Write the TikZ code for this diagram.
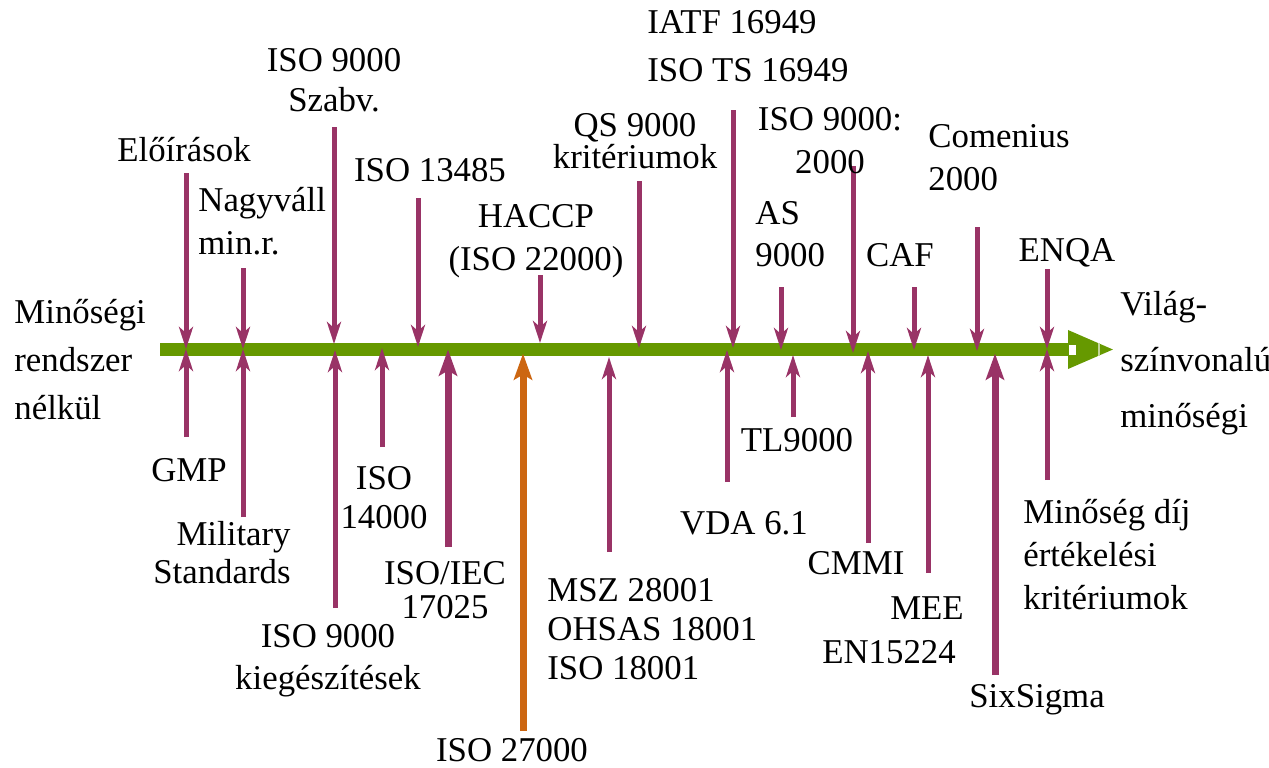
\documentclass[tikz,border=0pt]{standalone}
\usepackage{fontspec}
\setmainfont{Liberation Serif}
\usepackage{tikz}
\usetikzlibrary{arrows.meta}
\definecolor{plum}{RGB}{153,51,102}
\definecolor{leaf}{RGB}{102,153,0}
\definecolor{rust}{RGB}{204,102,17}

\begin{document}
\begin{tikzpicture}[
    x=0.5pt, y=-0.5pt,
    lbl/.style={inner sep=0pt, align=center, font=\fontsize{17.4}{#1}\selectfont},
    lbl/.default=21,
    feed/.style={plum, line width=2.5pt, -{Stealth[length=11pt, width=7pt, inset=3pt]}},
    heavy/.style={plum, line width=3.5pt, -{Stealth[length=13pt, width=9pt, inset=2.5pt]}},
]
\useasboundingbox (0,0) rectangle (1269,767);

% --- the timeline bar, left to right ---------------------------------------
\coordinate (start) at (160,349.5);
\coordinate (goal) at (1115,349.5);
\draw[leaf, line width=6.5pt, -{Triangle[length=23.5pt, width=17.5pt]}] (start) -- (goal);
\fill[white] (1069,345) rectangle (1076,355);
\draw[white!60!leaf, line width=0.7pt] (1099,343) -- (1099,356);

\node[lbl=24, align=left, anchor=west] (from) at (14,360) {Minőségi\\rendszer\\nélkül};
\node[lbl=28, align=left, anchor=west] (to) at (1120,363) {Világ-\\színvonalú\\minőségi};

% --- arrows from above ------------------------------------------------------
\foreach \i/\x/\a/\b in {1/186/173/349, 2/243/268/349, 3/334/127/344, 4/418/198/347,
                         5/540/275/343, 6/639/181/348, 7/733/110/348, 8/781/287/350,
                         9/853/166/353, 10/914/287/350, 11/977/227/351, 12/1047/269/349} {
  \coordinate (top\i) at (\x,\a);
  \coordinate (hit\i) at (\x,\b);
  \draw[feed] (top\i) -- (hit\i);
}

\node[lbl] (eloir) at (184,150) {Előírások};
\node[lbl=21.5, align=left, anchor=west] (nagyv) at (198,221.5) {Nagyváll\\min.r.};
\node[lbl=20] (szabv) at (334,80) {ISO 9000\\Szabv.};
\node[lbl] (iso13) at (430,170) {ISO 13485};
\node[lbl=21.5] (haccp) at (536,241) {HACCP\\(ISO 22000)};
\node[lbl=16] (qs) at (635,141) {QS 9000\\kritériumok};
\node[lbl=24, align=left, anchor=west] (iatf) at (647,46) {IATF 16949\\ISO TS 16949};
\node[lbl=21.5] (iso2000) at (830,141) {ISO 9000:\\2000};
\node[lbl, align=left, anchor=west] (as) at (755,234) {AS\\9000};
\node[lbl] (caf) at (900,255) {CAF};
\node[lbl=21.5, align=left, anchor=west] (comen) at (928,158) {Comenius\\2000};
\node[lbl] (enqa) at (1067,253) {ENQA};

% --- arrows from below ------------------------------------------------------
\foreach \i/\x/\a/\b in {1/186/437/349, 2/243/517/349, 3/335/608/350, 4/382/447/348,
                         5/609/552/357, 6/727/482/350, 7/793/417/355, 8/868/543/351,
                         9/928/573/355, 10/1047/480/349} {
  \coordinate (bot\i) at (\x,\a);
  \coordinate (up\i) at (\x,\b);
  \draw[feed] (bot\i) -- (up\i);
}
\coordinate (botA) at (448,547);
\coordinate (botB) at (523,731);
\coordinate (botC) at (995,675);
\draw[heavy] (botA) -- (botA |- start);
\draw[heavy, rust] (botB) -- ([yshift=-2pt]botB |- start);
\draw[heavy] (botC) -- ([yshift=-2pt]botC |- start);

\node[lbl] (gmp) at (189,470) {GMP};
\node[lbl=19, align=right, anchor=east] (milit) at (291,553) {Military\\Standards};
\node[lbl] (kieg) at (328,661) {ISO 9000\\kiegészítések};
\node[lbl=19.5] (iso14) at (384,498) {ISO\\14000};
\node[lbl=17] (iec) at (445,590) {ISO/IEC\\17025};
\node[lbl] (iso27) at (512,750) {ISO 27000};
\node[lbl=19.5, align=left, anchor=west] (msz) at (547,629) {MSZ 28001\\OHSAS 18001\\ISO 18001};
\node[lbl] (vda) at (744,523) {VDA 6.1};
\node[lbl] (tl) at (797,440) {TL9000};
\node[lbl] (cmmi) at (856,563) {CMMI};
\node[lbl] (mee) at (927,608) {MEE};
\node[lbl] (en) at (889,652) {EN15224};
\node[lbl] (six) at (1037,700) {SixSigma};
\node[lbl=21.5, align=left, anchor=west] (dij) at (1023,555) {Minőség díj\\értékelési\\kritériumok};

\end{tikzpicture}
\end{document}
